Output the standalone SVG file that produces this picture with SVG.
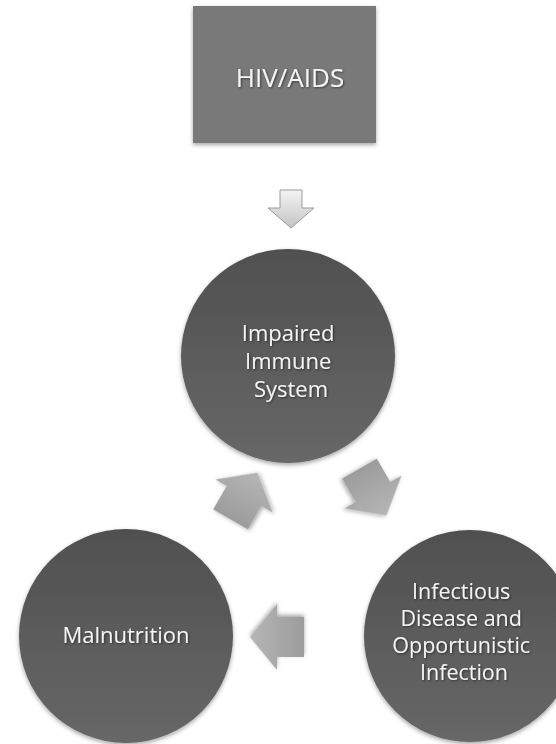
<svg xmlns="http://www.w3.org/2000/svg" width="556" height="744" viewBox="0 0 556 744">
  <defs>
    <linearGradient id="circ" x1="0" y1="0" x2="0" y2="1">
      <stop offset="0" stop-color="#505050"/>
      <stop offset="1" stop-color="#676767"/>
    </linearGradient>
    <linearGradient id="down" x1="0" y1="0" x2="0" y2="1">
      <stop offset="0" stop-color="#f4f4f4"/>
      <stop offset="1" stop-color="#c4c4c4"/>
    </linearGradient>
    <linearGradient id="cyc" x1="0" y1="0" x2="1" y2="0">
      <stop offset="0" stop-color="#9c9c9c"/>
      <stop offset="1" stop-color="#b6b6b6"/>
    </linearGradient>
    <filter id="shadow" x="-20%" y="-20%" width="140%" height="140%">
      <feDropShadow dx="0" dy="2" stdDeviation="2" flood-color="#000" flood-opacity="0.35"/>
    </filter>
    <filter id="tshadow" x="-10%" y="-30%" width="120%" height="160%">
      <feDropShadow dx="1" dy="1" stdDeviation="0.8" flood-color="#000" flood-opacity="0.5"/>
    </filter>
    <path id="arrow" d="M-27,-20 H0 V-33 L27,0 L0,33 V20 H-27 Z"/>
  </defs>
  <style>
    .lbl { font-family: "Open Sans", "Noto Sans", "Liberation Sans", sans-serif; fill: #f4f4f4; text-anchor: middle; }
    .node { fill: url(#circ); filter: url(#shadow); }
    .cyc { fill: url(#cyc); filter: url(#shadow); }
  </style>
  <rect width="556" height="744" fill="#ffffff"/>

  <g id="hiv-aids">
    <rect x="193" y="6" width="183" height="137" fill="#797979" filter="url(#shadow)"/>
    <text class="lbl" x="290" y="87" font-size="26" filter="url(#tshadow)">HIV/AIDS</text>
  </g>

  <g id="impaired-immune-system">
    <circle class="node" cx="288" cy="356" r="107"/>
    <text class="lbl" font-size="22" filter="url(#tshadow)">
      <tspan x="291" y="341">Impaired</tspan>
      <tspan x="291" y="369">Immune</tspan>
      <tspan x="291" y="397">System</tspan>
    </text>
  </g>

  <g id="infectious-disease">
    <circle class="node" cx="470" cy="636" r="106"/>
    <text class="lbl" font-size="21.5" filter="url(#tshadow)">
      <tspan x="464" y="599">Infectious</tspan>
      <tspan x="464" y="626">Disease and</tspan>
      <tspan x="464" y="653">Opportunistic</tspan>
      <tspan x="464" y="680">Infection</tspan>
    </text>
  </g>

  <g id="malnutrition">
    <circle class="node" cx="126" cy="636" r="107"/>
    <text class="lbl" x="126" y="643" font-size="22" filter="url(#tshadow)">Malnutrition</text>
  </g>

  <g id="connectors">
    <path d="M280,190 H302 V208 H314 L291,228 L268,208 H280 Z" fill="url(#down)" stroke="#9a9a9a" stroke-width="1"/>
    <use href="#arrow" class="cyc" transform="translate(373,492) rotate(60)"/>
    <use href="#arrow" class="cyc" transform="translate(277,637) rotate(180)"/>
    <use href="#arrow" class="cyc" transform="translate(244,496) rotate(-60)"/>
  </g>
</svg>
